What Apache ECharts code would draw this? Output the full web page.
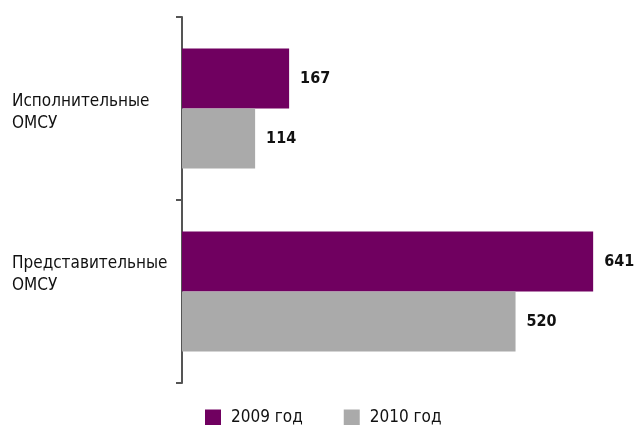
<!DOCTYPE html>
<html><head><meta charset="utf-8">
<script src="https://cdn.jsdelivr.net/npm/echarts@6/dist/echarts.min.js"></script>
<style>html,body{margin:0;padding:0;background:#fff}#c{width:634px;height:425px}</style>
</head><body><div id="c"></div>
<script>
const categories = ['Исполнительные\nОМСУ', 'Представительные\nОМСУ'];
const seriesNames = ['2009 год', '2010 год'];
const values2009 = [167, 641];
const values2010 = [114, 520];

const FONT = '"DejaVu Sans Condensed", "Liberation Sans Narrow", sans-serif';
const chart = echarts.init(document.getElementById('c'), null, {renderer: 'canvas'});
chart.setOption({
  animation: false,
  textStyle: {fontFamily: FONT},
  grid: {left: 182, top: 17, width: 449, height: 366, containLabel: false, outerBoundsMode: 'none'},
  legend: {
    data: seriesNames, left: 205, top: 409, padding: 0, itemWidth: 16, itemHeight: 16, itemGap: 41,
    icon: 'rect',
    textStyle: {fontFamily: FONT, fontSize: 17, color: '#111', padding: [0, 0, 0, 5]}
  },
  xAxis: {type: 'value', min: 0, max: 700, show: false},
  yAxis: {
    type: 'category', inverse: true,
    data: categories,
    axisLine: {lineStyle: {color: '#555', width: 2}},
    axisTick: {show: true, length: 6, lineStyle: {color: '#555', width: 2}},
    axisLabel: {
      margin: 12, fontSize: 17, color: '#111', fontFamily: FONT,
      formatter: function (v, i) {
        const lines = v.split('\n').map(s => '{a|' + s + '}').join('\n');
        return i === 0 ? '{t|}\n' + lines : lines + '\n{b|}';
      },
      rich: {
        a: {width: 158, align: 'left', fontSize: 17, lineHeight: 22, color: '#111', fontFamily: FONT},
        t: {width: 158, lineHeight: 8, fontSize: 1},
        b: {width: 158, lineHeight: 34, fontSize: 1}
      }
    }
  },
  series: [
    {name: seriesNames[0], type: 'bar', data: values2009, barWidth: 60, barGap: '0%',
     itemStyle: {color: '#700060'},
     label: {show: true, position: 'right', distance: 11, fontSize: 16, fontWeight: 'bold', color: '#111', fontFamily: FONT}},
    {name: seriesNames[1], type: 'bar', data: values2010, barWidth: 60, barGap: '0%',
     itemStyle: {color: '#aaaaaa'},
     label: {show: true, position: 'right', distance: 11, fontSize: 16, fontWeight: 'bold', color: '#111', fontFamily: FONT}}
  ]
});
</script></body></html>
